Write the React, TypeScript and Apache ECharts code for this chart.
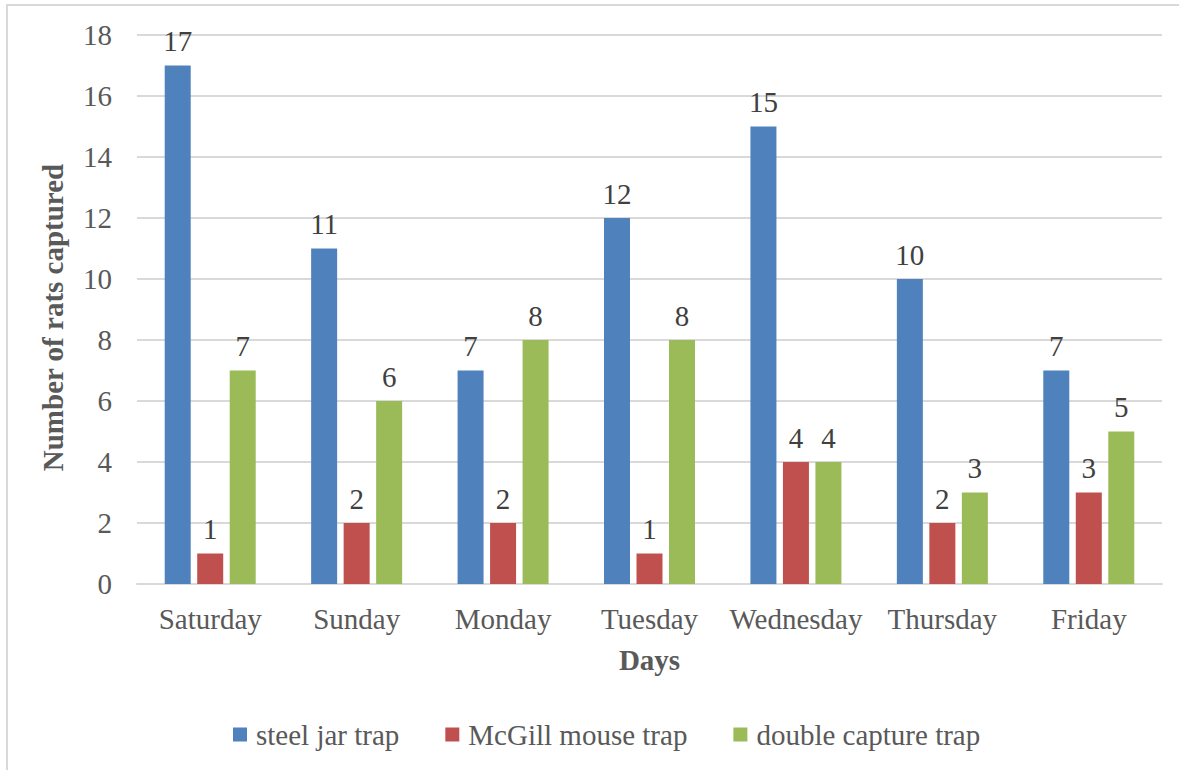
import React, { useEffect, useRef } from "react";
import * as echarts from "echarts";

const days = ["Saturday", "Sunday", "Monday", "Tuesday", "Wednesday", "Thursday", "Friday"];
const steelJar = [17, 11, 7, 12, 15, 10, 7];
const mcGill = [1, 2, 2, 1, 4, 2, 3];
const doubleCapture = [7, 6, 8, 8, 4, 3, 5];
const seriesNames = ["steel jar trap", "McGill mouse trap", "double capture trap"];
const colors = ["#4F81BD", "#C0504D", "#9BBB59"];

const FONT = "'Liberation Serif', 'Times New Roman', serif";
const FS = 29;

export default function App() {
  const ref = useRef<HTMLDivElement>(null);
  useEffect(() => {
    if (!ref.current) return;
    const chart = echarts.init(ref.current, null, { renderer: "svg" });
    const mk = (name: string, data: number[], color: string) => ({
      name,
      type: "bar",
      data,
      barWidth: 26,
      barGap: "25%",
      itemStyle: { color },
      label: {
        show: true,
        position: "top",
        distance: 10,
        color: "#404040",
        fontFamily: FONT,
        fontSize: FS,
      },
    });
    chart.setOption({
      animation: false,
      backgroundColor: "#ffffff",
      textStyle: { fontFamily: FONT },
      graphic: [
        {
          type: "rect",
          shape: { x: 7, y: 5, width: 1300, height: 900 },
          style: { fill: "none", stroke: "#d9d9d9", lineWidth: 2 },
          silent: true,
        },
      ],
      grid: { left: 137, right: 17, top: 35, bottom: 186 },
      legend: {
        bottom: 16,
        left: 228,
        itemWidth: 14,
        itemHeight: 14,
        itemGap: 46,
        icon: "rect",
        textStyle: { color: "#595959", fontFamily: FONT, fontSize: FS, padding: [0, 0, 0, 4] },
        data: seriesNames,
      },
      xAxis: {
        type: "category",
        data: days,
        name: "Days",
        nameLocation: "middle",
        nameGap: 61,
        nameTextStyle: { color: "#595959", fontFamily: FONT, fontSize: FS, fontWeight: "bold" },
        axisLine: { lineStyle: { color: "#d9d9d9", width: 2 } },
        axisTick: { show: false },
        axisLabel: { color: "#595959", fontFamily: FONT, fontSize: FS, margin: 20, interval: 0 },
      },
      yAxis: {
        type: "value",
        min: 0,
        max: 18,
        interval: 2,
        name: "Number of rats captured",
        nameLocation: "middle",
        nameGap: 70,
        nameTextStyle: {
          color: "#595959",
          fontFamily: FONT,
          fontSize: FS,
          fontWeight: "bold",
          padding: [0, 16, 0, 0],
        },
        axisLine: { show: false },
        axisTick: { show: false },
        axisLabel: { color: "#595959", fontFamily: FONT, fontSize: FS, margin: 25 },
        splitLine: { lineStyle: { color: "#d9d9d9", width: 2 } },
      },
      series: [
        mk(seriesNames[0], steelJar, colors[0]),
        mk(seriesNames[1], mcGill, colors[1]),
        mk(seriesNames[2], doubleCapture, colors[2]),
      ],
    });
    return () => chart.dispose();
  }, []);
  return (
    <div
      ref={ref}
      style={{ position: "fixed", left: 0, top: 0, width: 1179, height: 770 }}
    />
  );
}
